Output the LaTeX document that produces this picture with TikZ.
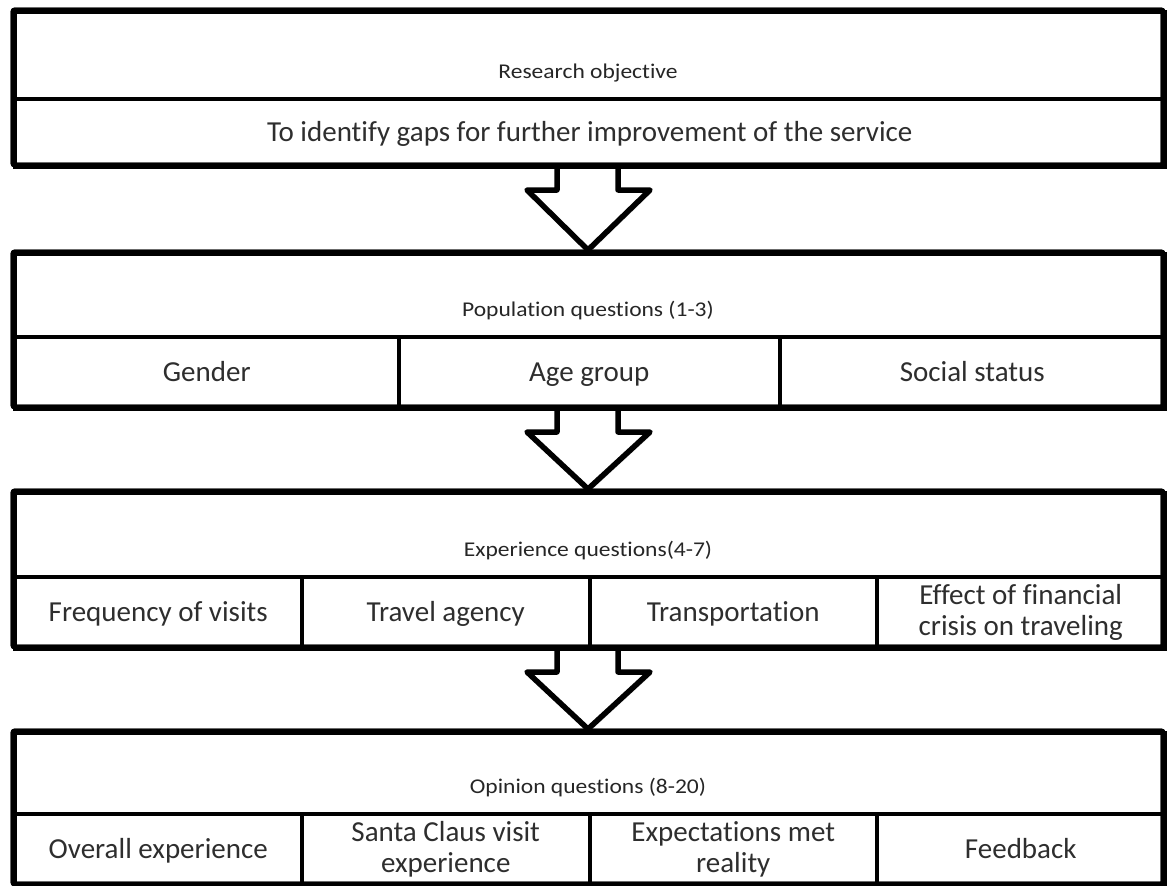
\documentclass[tikz,border=0pt]{standalone}
\usepackage{fontspec}
\setmainfont{Carlito}[Ligatures=NoCommon]
\newfontfamily\titlefont{Carlito}[Ligatures=NoCommon, FakeStretch=1.12]
\usetikzlibrary{shadows}
\newcommand\cellnode[6]{\node[cellbox, minimum width={#4-#2}, minimum height={#5-#3}] (#1) at (#2,#3) {#6};}
\newcommand\cellstrut{\rule[-6pt]{0pt}{30pt}}
\newcommand\myframefill[4]{\draw[outerline, fill=white, drop shadow={shadow xshift=2pt, shadow yshift=-2.5pt, opacity=0.2}] (#1,#2) rectangle (#3,#4);}
\newcommand\myframeline[4]{\draw[outerline] (#1,#2) rectangle (#3,#4);}
\newcommand\myblockarrow[2]{\draw[arrowshape, drop shadow={shadow xshift=2pt, shadow yshift=-2.5pt, opacity=0.2}]
  (557,#1) -- (557,#1+25) -- (527,#1+25) -- (588,#2) -- (650,#1+25) -- (618,#1+25) -- (618,#1);}
\begin{document}
\begin{tikzpicture}[x=1pt,y=-1pt,
  cellbox/.style={draw, line width=3.5pt, inner sep=0pt, anchor=north west, align=center,
    text=black!82, font=\fontsize{29}{31}\selectfont, execute at begin node=\cellstrut},
  titletext/.style={anchor=base, inner sep=0pt, text=black!85, font=\titlefont\fontsize{21}{24}\selectfont},
  outerline/.style={draw, line width=5pt, rounded corners=2pt},
  arrowshape/.style={draw, fill=white, line width=5.5pt, line join=round}]
\useasboundingbox (0,0) rectangle (1171,886);

% arrows (behind the blocks)
\myblockarrow{165}{250}
\myblockarrow{407}{489}
\myblockarrow{647}{729}

% Block 1
\myframefill{13}{10}{1163}{165}
\cellnode{h1}{13}{10}{1163}{97}{}
\cellnode{obj}{13}{97}{1163}{165}{To identify gaps for further improvement of the service}
\node[titletext] (t1) at (588,78) {Research objective};
\myframeline{13}{10}{1163}{165}

% Block 2
\myframefill{13}{252}{1163}{407}
\cellnode{h2}{13}{252}{1163}{335}{}
\cellnode{gender}{13}{335}{397}{407}{Gender}
\cellnode{age}{397}{335}{778}{407}{Age group}
\cellnode{social}{778}{335}{1163}{407}{Social status}
\node[titletext] (t2) at (588,316) {Population questions (1-3)};
\myframeline{13}{252}{1163}{407}

% Block 3
\myframefill{13}{491}{1163}{647}
\cellnode{h3}{13}{491}{1163}{575}{}
\cellnode{freq}{13}{575}{300}{647}{Frequency of visits}
\cellnode{agency}{300}{575}{588}{647}{Travel agency}
\cellnode{transp}{588}{575}{875}{647}{Transportation}
\cellnode{crisis}{875}{575}{1163}{647}{Effect of financial\\crisis on traveling}
\node[titletext] (t3) at (588,556) {Experience questions(4-7)};
\myframeline{13}{491}{1163}{647}

% Block 4
\myframefill{13}{731}{1163}{884}
\cellnode{h4}{13}{731}{1163}{812}{}
\cellnode{overall}{13}{812}{300}{884}{Overall experience}
\cellnode{santa}{300}{812}{588}{884}{Santa Claus visit\\experience}
\cellnode{expect}{588}{812}{875}{884}{Expectations met\\reality}
\cellnode{feedback}{875}{812}{1163}{884}{Feedback}
\node[titletext] (t4) at (588,793) {Opinion questions (8-20)};
\myframeline{13}{731}{1163}{884}
\end{tikzpicture}
\end{document}
